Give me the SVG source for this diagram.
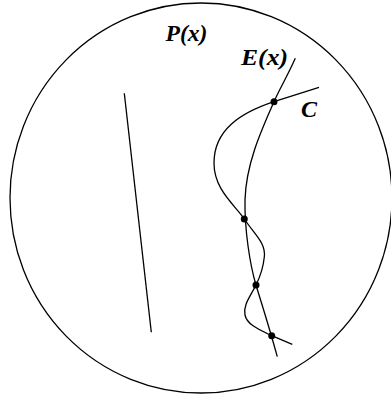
<svg xmlns="http://www.w3.org/2000/svg" width="391" height="396" viewBox="0 0 391 396">
<style>
.ln{fill:none;stroke:#000;stroke-width:1.3}
.lbl{font-family:"Liberation Serif",serif;font-weight:bold;font-style:italic;font-size:24px;fill:#000}
.dot{fill:#000}
</style>
<rect width="391" height="396" fill="#fff"/>
<g id="region-P">
<ellipse class="ln" cx="201" cy="198" rx="191" ry="195"/>
<text class="lbl" x="165.5" y="41" textLength="42" lengthAdjust="spacingAndGlyphs">P(x)</text>
</g>
<g id="line">
<path class="ln" d="M124.3,93.3 L151.3,332.3"/>
</g>
<g id="curve-E">
<path class="ln" d="M295.3,58.3 C288,75 280,88 274,101.7 C260,133 246,165 245,200 C244.5,230 250,265 256,285 C262,305 268,323 277.3,356.7"/>
<text class="lbl" x="241" y="65" textLength="47" lengthAdjust="spacingAndGlyphs">E(x)</text>
</g>
<g id="curve-C">
<path class="ln" d="M319,87.3 L274,101.7 C240,113 214,130 214,163 C214,190 235,205 244.3,219 C255,235 266,243 264.3,257 C263,270 259,279 256,285 C250,297 243,305 245,315 C247,325 260,330 271.7,335.7 L292.3,344.3"/>
<text class="lbl" x="301" y="117">C</text>
</g>
<g id="intersections">
<circle class="dot" cx="274" cy="101.7" r="3.5"/>
<circle class="dot" cx="244.3" cy="219" r="3.5"/>
<circle class="dot" cx="256" cy="285" r="3.5"/>
<circle class="dot" cx="271.7" cy="335.7" r="3.5"/>
</g>
</svg>
